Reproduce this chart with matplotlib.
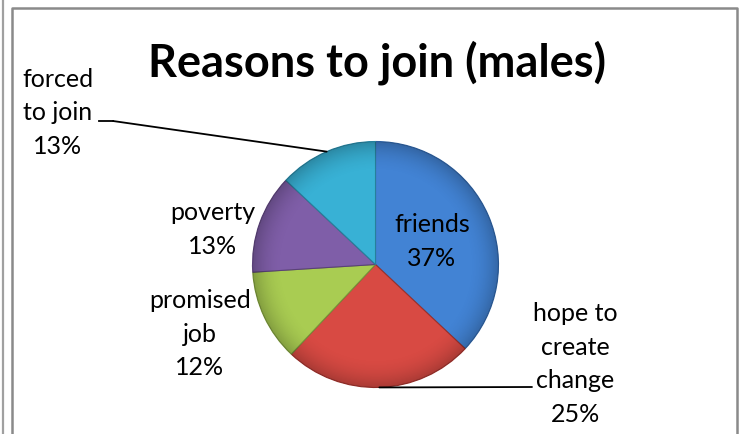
import numpy as np
import matplotlib
matplotlib.use("Agg")
import matplotlib.pyplot as plt
from matplotlib.lines import Line2D
from matplotlib.patches import Circle

W, H = 742, 434

# data
categories = ["friends", "hope to\ncreate\nchange", "promised\njob", "poverty", "forced\nto join"]
shares = [37, 25, 12, 13, 13]
colors = ["#4283d4", "#d84a43", "#a9cc52", "#7f5ea8", "#38b1d5"]
edges = ["#2d5f9e", "#9c302b", "#78943a", "#5a4178", "#26809c"]
title = "Reasons to join (males)"

plt.rcParams['font.family'] = ['Lato', 'DejaVu Sans']

fig = plt.figure(figsize=(W / 100, H / 100), dpi=100)

def fx(px):
    return px / W

def fy(py):
    return 1 - py / H

# frame lines like the pasted picture
gray = "#8a8a8a"
fig.add_artist(Line2D([fx(3), fx(3)], [0, 1], color="#a0a0a0", lw=1.6, transform=fig.transFigure))
fig.add_artist(Line2D([fx(12), fx(12), fx(737), fx(737)], [0, fy(8), fy(8), 0],
                      color=gray, lw=1.8, transform=fig.transFigure))

# pie: center (375.5, 264.5) px, radius 123 px
cx, cy, r = 375.5, 264.5, 123
ax = fig.add_axes([fx(cx - r), fy(cy + r), 2 * r / W, 2 * r / H])
wedges, _ = ax.pie(shares, colors=colors, startangle=90, counterclock=False,
                   radius=1, wedgeprops=dict(linewidth=0.8))
for w, e in zip(wedges, edges):
    w.set_edgecolor(e)

# soft rim shading for the bevelled look
g = np.linspace(-1, 1, 300)
gx, gy = np.meshgrid(g, g)
rr = np.sqrt(gx ** 2 + gy ** 2)
shade = np.zeros((300, 300, 4))
shade[..., 3] = np.clip((rr - 0.75) / 0.25, 0, 1) ** 2 * 0.22
im = ax.imshow(shade, extent=[-1, 1, -1, 1], origin="lower", zorder=3)
im.set_clip_path(Circle((0, 0), 1, transform=ax.transData))

ax.set_xlim(-1, 1)
ax.set_ylim(-1, 1)
ax.set_aspect("equal")
ax.axis("off")

fig.text(fx(376.5), fy(63), title, ha="center", va="center", fontsize=32.5, fontweight="bold")

# label positions in pixels
label_pos = [(432, 241.5), (575, 364), (200, 334), (213, 229.5), (58, 113)]
leader_text = {1: (532, 387), 4: (113, 121)}

for i, (cat, v) in enumerate(zip(categories, shares)):
    x, y = label_pos[i]
    fig.text(fx(x), fy(y), f"{cat}\n{v}%", ha="center", va="center", zorder=5,
             fontsize=18, linespacing=1.55, multialignment="center")

# leader lines from wedge midpoints
for i, (tx, ty) in leader_text.items():
    w = wedges[i]
    mid = np.deg2rad((w.theta1 + w.theta2) / 2)
    px, py = np.cos(mid), np.sin(mid)
    ax.annotate("", xy=(px, py), xycoords="data",
                xytext=(fx(tx), fy(ty)), textcoords="figure fraction",
                arrowprops=dict(arrowstyle="-", color="black", lw=1.3,
                                shrinkA=0, shrinkB=0))
# short horizontal lead-in after "to join"
fig.add_artist(Line2D([fx(99), fx(113)], [fy(121), fy(121)], color="black", lw=1.3,
                      transform=fig.transFigure))

fig.savefig("out.png", dpi=100)
